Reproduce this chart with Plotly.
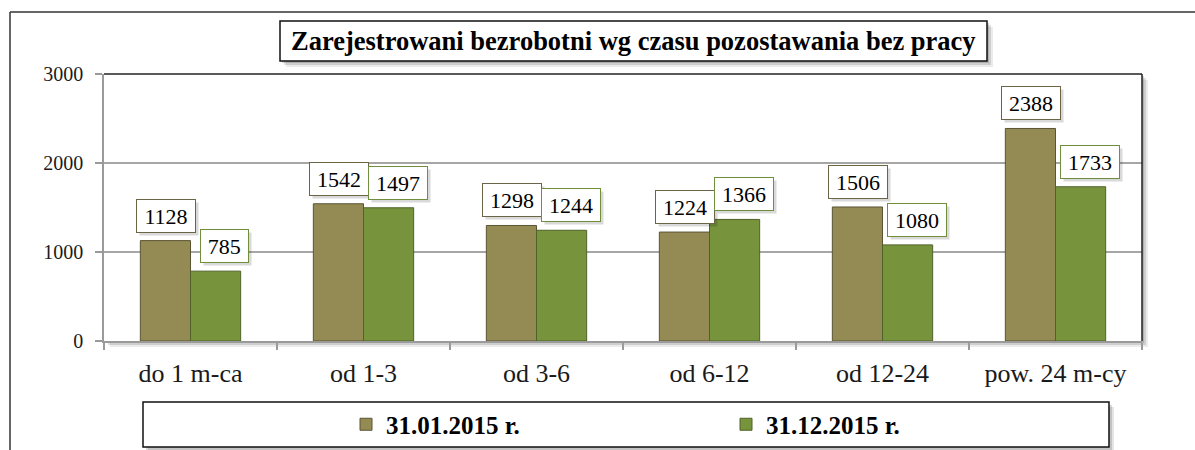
import plotly.graph_objects as go

categories = ["do 1 m-ca", "od 1-3", "od 3-6", "od 6-12", "od 12-24", "pow. 24 m-cy"]
series_names = ["31.01.2015 r.", "31.12.2015 r."]
values_jan = [1128, 1542, 1298, 1224, 1506, 2388]
values_dec = [785, 1497, 1244, 1366, 1080, 1733]
y_ticks = [0, 1000, 2000, 3000]
title_text = "Zarejestrowani bezrobotni wg czasu pozostawania bez pracy"

FONT = "'Liberation Serif', 'Times New Roman', Times, serif"
OLIVE = "#948A54"
OLIVE_EDGE = "#5a5433"
OLIVE_LABEL = "#6b6545"
GREEN = "#77933C"
GREEN_EDGE = "#4F6228"
GREEN_LABEL = "#6f8f3c"

W, H = 1195, 450
L, R, T, B = 104, 53, 74, 109
PW, PH = W - L - R, H - T - B


def px2x(px):
    return (px - L) / PW


def py2y(py):
    return (H - B - py) / PH


fig = go.Figure()
fig.add_trace(go.Bar(
    x=categories, y=values_jan, name=series_names[0],
    marker=dict(color=OLIVE, line=dict(color=OLIVE_EDGE, width=1)),
))
fig.add_trace(go.Bar(
    x=categories, y=values_dec, name=series_names[1],
    marker=dict(color=GREEN, line=dict(color=GREEN_EDGE, width=1)),
))

shapes = []
# outer frame (left + top)
shapes.append(dict(type="line", xref="paper", yref="paper",
                   x0=px2x(10), x1=px2x(1196), y0=py2y(12), y1=py2y(12),
                   line=dict(color="#333333", width=1.5), layer="below"))
shapes.append(dict(type="line", xref="paper", yref="paper",
                   x0=px2x(10), x1=px2x(10), y0=py2y(12), y1=py2y(451),
                   line=dict(color="#333333", width=1.5), layer="below"))

# plot area shadow + white background
for off, a in [(6, 0.08), (4, 0.12), (2, 0.15)]:
    shapes.append(dict(type="rect", xref="paper", yref="paper",
                       x0=px2x(L + off), x1=px2x(L + PW + off),
                       y0=py2y(T + off), y1=py2y(T + PH + off),
                       fillcolor=f"rgba(0,0,0,{a})", line=dict(width=0), layer="below"))
shapes.append(dict(type="rect", xref="paper", yref="paper",
                   x0=0, x1=1, y0=0, y1=1,
                   fillcolor="white", line=dict(width=0), layer="below"))
# plot area top/right border
shapes.append(dict(type="line", xref="paper", yref="paper", x0=0, x1=1, y0=1, y1=1,
                   line=dict(color="#222222", width=1.5), layer="above"))
shapes.append(dict(type="line", xref="paper", yref="paper", x0=1, x1=1, y0=0, y1=1,
                   line=dict(color="#222222", width=1.5), layer="above"))

# legend box with shadow
LB = (143, 1109, 402, 447)
for off, a in [(5, 0.10), (3, 0.15)]:
    shapes.append(dict(type="rect", xref="paper", yref="paper",
                       x0=px2x(LB[0] + off), x1=px2x(LB[1] + off),
                       y0=py2y(LB[2] + off), y1=py2y(LB[3] + off),
                       fillcolor=f"rgba(0,0,0,{a})", line=dict(width=0), layer="below"))
shapes.append(dict(type="rect", xref="paper", yref="paper",
                   x0=px2x(LB[0]), x1=px2x(LB[1]), y0=py2y(LB[2]), y1=py2y(LB[3]),
                   fillcolor="white", line=dict(color="#111111", width=1.5), layer="below"))

# title box with shadow
TB = (280, 987, 21, 61)
for off, a in [(6, 0.08), (4, 0.12), (2, 0.15)]:
    shapes.append(dict(type="rect", xref="paper", yref="paper",
                       x0=px2x(TB[0] + off), x1=px2x(TB[1] + off),
                       y0=py2y(TB[2] + off), y1=py2y(TB[3] + off),
                       fillcolor=f"rgba(0,0,0,{a})", line=dict(width=0), layer="below"))
shapes.append(dict(type="rect", xref="paper", yref="paper",
                   x0=px2x(TB[0]), x1=px2x(TB[1]), y0=py2y(TB[2]), y1=py2y(TB[3]),
                   fillcolor="white", line=dict(color="#111111", width=1.5), layer="below"))

annotations = [dict(
    text=f"<b>{title_text}</b>", xref="paper", yref="paper",
    x=px2x((TB[0] + TB[1]) / 2), y=py2y((TB[2] + TB[3]) / 2),
    xanchor="center", yanchor="middle", showarrow=False,
    font=dict(family=FONT, size=26.5, color="black"),
)]

# data labels (boxed), shadows first
label_specs = []
for vals, dx, border in [(values_jan, -25, OLIVE_LABEL), (values_dec, 34, GREEN_LABEL)]:
    for c, v in zip(categories, vals):
        label_specs.append((c, v, dx, border))

for c, v, dx, border in label_specs:
    s = str(v)
    annotations.append(dict(
        x=c, y=v, xref="x", yref="y", text=s, showarrow=False,
        xshift=dx + 3, yshift=8 - 3, yanchor="bottom",
        width=11.5 * len(s) + 8, height=28, borderpad=2, borderwidth=1,
        bgcolor="rgba(0,0,0,0.15)", bordercolor="rgba(0,0,0,0)",
        font=dict(family=FONT, size=22, color="rgba(0,0,0,0)"),
    ))
for c, v, dx, border in label_specs:
    s = str(v)
    annotations.append(dict(
        x=c, y=v, xref="x", yref="y", text=s, showarrow=False,
        xshift=dx, yshift=8, yanchor="bottom",
        width=11.5 * len(s) + 8, height=28, borderpad=2, borderwidth=1,
        bgcolor="white", bordercolor=border,
        font=dict(family=FONT, size=22, color="black"),
    ))

fig.update_layout(
    width=W, height=H,
    margin=dict(l=L, r=R, t=T, b=B, pad=0, autoexpand=False),
    paper_bgcolor="white", plot_bgcolor="rgba(0,0,0,0)",
    barmode="group", bargap=0.42, bargroupgap=0,
    font=dict(family=FONT, color="black"),
    shapes=shapes, annotations=annotations,
    showlegend=True,
    legend=dict(
        orientation="h", x=px2x(346), y=py2y(424.5), xanchor="left", yanchor="middle",
        font=dict(family=FONT, size=25, color="black", weight="bold"),
        bgcolor="rgba(0,0,0,0)", borderwidth=0,
        entrywidth=335, entrywidthmode="pixels", traceorder="normal",
    ),
)
fig.update_xaxes(
    type="category", showgrid=False, showline=True, linecolor="#9a9a9a", linewidth=1.5,
    ticks="outside", tickson="boundaries", ticklen=7, tickcolor="#9a9a9a", tickwidth=1.5,
    tickfont=dict(family=FONT, size=26, color="#1a1a1a"), ticklabelstandoff=8,
    automargin=False,
)
fig.update_yaxes(
    range=[0, 3000], tickvals=y_ticks, showgrid=True, gridcolor="#a6a6a6", gridwidth=1.5,
    showline=True, linecolor="#9a9a9a", linewidth=1.5, zeroline=False,
    ticks="outside", ticklen=7, tickcolor="#9a9a9a", tickwidth=1.5,
    tickfont=dict(family=FONT, size=20, color="#1a1a1a"), ticklabelstandoff=8,
    automargin=False,
)

fig.write_html("out.html", config={"displayModeBar": False},
               post_script="document.body.style.margin='0px';")
